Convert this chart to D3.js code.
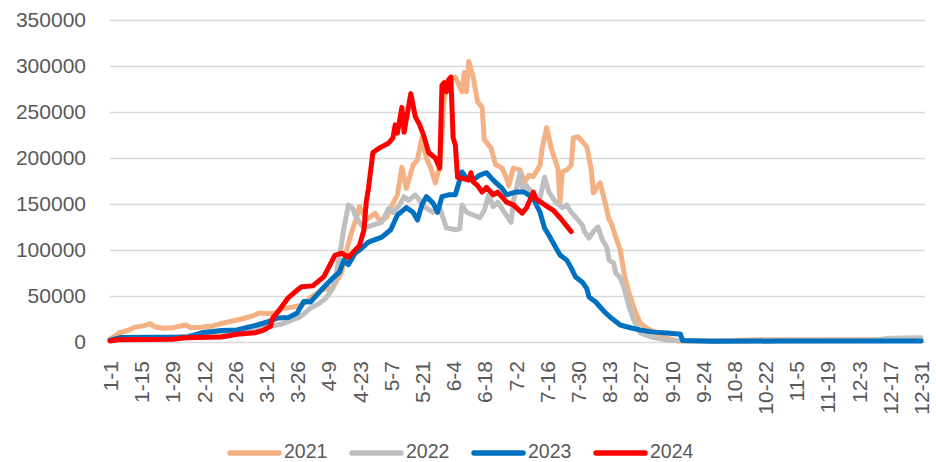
<!DOCTYPE html>
<html>
<head>
<meta charset="utf-8">
<script src="https://cdn.jsdelivr.net/npm/d3@7"></script>
<style>
  body { margin: 0; background: #fff; }
  svg { display: block; font-family: "Liberation Sans", Arial, sans-serif; }
</style>
</head>
<body>
<div id="chart"></div>
<script>
// category axis: every day of the year
const days = d3.timeDay.range(new Date(2021, 0, 1), new Date(2022, 0, 1))
                 .map(d => (d.getMonth() + 1) + '-' + d.getDate());

const tickLabels = ["1-1", "1-15", "1-29", "2-12", "2-26", "3-12", "3-26", "4-9", "4-23", "5-7",
                    "5-21", "6-4", "6-18", "7-2", "7-16", "7-30", "8-13", "8-27", "9-10", "9-24",
                    "10-8", "10-22", "11-5", "11-19", "12-3", "12-17", "12-31"];

const yTicks = [0, 50000, 100000, 150000, 200000, 250000, 300000, 350000];

const seriesNames = ["2021", "2022", "2023", "2024"];

const data2021 = [
  ["1-1", 3000], ["1-3", 6000], ["1-5", 9800], ["1-9", 12500], ["1-12", 16000], ["1-16", 17500],
  ["1-19", 20000], ["1-21", 16500], ["1-25", 15000], ["1-29", 15500], ["2-1", 17000], ["2-4", 18500],
  ["2-6", 15500], ["2-11", 16000], ["2-16", 17500], ["2-19", 19500], ["2-25", 22800], ["3-1", 25000],
  ["3-6", 28300], ["3-9", 31500], ["3-13", 31000], ["3-16", 31500], ["3-19", 36000], ["3-24", 38000],
  ["3-28", 40000], ["4-2", 50000], ["4-6", 56500], ["4-11", 59000], ["4-15", 76000], ["4-17", 98000],
  ["4-19", 116000], ["4-22", 138000], ["4-23", 147000], ["4-26", 133000], ["4-30", 140000], ["5-2", 132000],
  ["5-5", 135000], ["5-7", 146000], ["5-10", 160000], ["5-12", 190000], ["5-14", 167000], ["5-17", 192000],
  ["5-19", 198000], ["5-21", 222000], ["5-23", 200000], ["5-25", 189000], ["5-27", 173000], ["5-29", 192000],
  ["5-31", 265000], ["6-2", 285000], ["6-5", 288000], ["6-8", 272000], ["6-9", 293000], ["6-10", 272000],
  ["6-11", 305000], ["6-13", 288000], ["6-15", 261000], ["6-17", 255000], ["6-18", 220000], ["6-21", 211000],
  ["6-23", 193000], ["6-26", 189000], ["6-28", 178000], ["6-29", 170000], ["7-1", 189000], ["7-4", 187000],
  ["7-6", 174000], ["7-8", 181000], ["7-10", 180000], ["7-13", 192000], ["7-14", 211000], ["7-16", 233000],
  ["7-18", 211000], ["7-21", 189000], ["7-22", 152000], ["7-23", 185000], ["7-25", 187000], ["7-27", 192000],
  ["7-28", 222000], ["7-30", 223000], ["8-1", 218000], ["8-3", 212000], ["8-4", 200000], ["8-5", 187000],
  ["8-6", 162000], ["8-8", 170000], ["8-9", 173000], ["8-11", 154000], ["8-13", 133000], ["8-14", 129000],
  ["8-16", 114000], ["8-18", 100000], ["8-20", 71000], ["8-22", 53000], ["8-25", 31500], ["8-27", 20600],
  ["8-30", 15000], ["9-3", 9800], ["9-8", 4300], ["9-13", 1000], ["9-28", 1000], ["10-18", 2500],
  ["12-31", 2500]
];

const data2022 = [
  ["1-1", 2000], ["1-11", 3500], ["1-31", 5500], ["2-20", 9000], ["3-2", 11000], ["3-12", 16000],
  ["3-19", 19500], ["3-27", 27000], ["3-30", 32600], ["4-1", 37000], ["4-5", 42000], ["4-8", 48000],
  ["4-11", 58000], ["4-13", 80000], ["4-15", 108000], ["4-16", 124000], ["4-18", 149000], ["4-20", 145000],
  ["4-21", 138000], ["4-23", 130000], ["4-25", 124000], ["4-29", 127000], ["5-3", 130000], ["5-6", 145000],
  ["5-8", 141000], ["5-11", 149000], ["5-13", 158000], ["5-15", 154000], ["5-18", 160000], ["5-22", 147000],
  ["5-26", 141000], ["5-29", 146000], ["6-1", 124000], ["6-5", 122000], ["6-7", 123000], ["6-8", 149000],
  ["6-10", 141000], ["6-13", 138000], ["6-16", 135000], ["6-18", 143000], ["6-20", 160000], ["6-22", 147000],
  ["6-24", 152000], ["6-27", 141000], ["6-30", 130000], ["7-1", 152000], ["7-4", 184000], ["7-5", 167000],
  ["7-7", 170000], ["7-10", 160000], ["7-13", 156000], ["7-15", 179000], ["7-17", 163000], ["7-20", 152000],
  ["7-23", 146000], ["7-25", 149000], ["7-27", 141000], ["7-30", 133000], ["8-1", 127000], ["8-2", 120000],
  ["8-4", 113000], ["8-6", 120000], ["8-8", 125000], ["8-10", 111000], ["8-12", 103000], ["8-13", 89000],
  ["8-15", 86000], ["8-16", 75000], ["8-18", 70000], ["8-20", 56500], ["8-22", 38000], ["8-24", 24000],
  ["8-27", 9800], ["9-1", 5400], ["9-8", 2000], ["9-28", 1000], ["12-7", 1500], ["12-17", 4000],
  ["12-31", 4500]
];

const data2023 = [
  ["1-1", 2000], ["1-6", 5000], ["2-5", 5500], ["2-11", 10000], ["2-20", 12500], ["2-27", 13000],
  ["3-8", 18500], ["3-13", 22000], ["3-17", 26000], ["3-22", 26500], ["3-26", 31500], ["3-29", 44000],
  ["4-1", 43500], ["4-6", 57000], ["4-11", 69500], ["4-14", 76000], ["4-16", 89000], ["4-18", 84000],
  ["4-21", 96500], ["4-23", 100000], ["4-27", 108500], ["5-3", 114000], ["5-7", 122000], ["5-10", 138000],
  ["5-14", 146000], ["5-17", 141000], ["5-19", 132500], ["5-21", 149000], ["5-23", 158000], ["5-26", 151000],
  ["5-28", 141000], ["5-30", 158000], ["6-2", 160000], ["6-5", 160000], ["6-8", 185000], ["6-10", 178000],
  ["6-13", 176000], ["6-16", 181500], ["6-19", 184000], ["6-22", 176000], ["6-26", 167000], ["6-28", 160000],
  ["7-2", 163000], ["7-6", 163000], ["7-10", 156000], ["7-13", 141000], ["7-15", 124000], ["7-17", 116000],
  ["7-20", 103000], ["7-22", 94500], ["7-25", 89000], ["7-27", 80500], ["7-29", 70600], ["8-1", 65000],
  ["8-3", 58000], ["8-4", 49000], ["8-7", 43500], ["8-11", 32600], ["8-14", 26000], ["8-18", 18500],
  ["8-23", 15200], ["8-27", 13000], ["9-1", 11000], ["9-8", 9800], ["9-13", 8700], ["9-14", 8700],
  ["9-15", 1500], ["9-28", 800], ["10-28", 1000], ["12-31", 1000]
];

const data2024 = [
  ["1-1", 1000], ["1-4", 2500], ["1-29", 3000], ["2-4", 4500], ["2-20", 5500], ["2-27", 8500],
  ["3-7", 10000], ["3-11", 13000], ["3-14", 17000], ["3-15", 26000], ["3-17", 31500], ["3-22", 48000],
  ["3-26", 56500], ["3-28", 60000], ["4-2", 61000], ["4-7", 71000], ["4-12", 94500], ["4-15", 96500],
  ["4-18", 92000], ["4-23", 105000], ["4-25", 122000], ["4-26", 152000], ["4-27", 167000], ["4-29", 206000],
  ["5-2", 211000], ["5-6", 216000], ["5-8", 222000], ["5-9", 236000], ["5-10", 227000], ["5-12", 255000],
  ["5-13", 228000], ["5-16", 270000], ["5-18", 245000], ["5-20", 236000], ["5-22", 223000], ["5-24", 206000],
  ["5-27", 200000], ["5-29", 189000], ["5-30", 279000], ["5-31", 282000], ["6-1", 272000], ["6-2", 285000],
  ["6-3", 288000], ["6-4", 222000], ["6-5", 214000], ["6-6", 179000], ["6-8", 178000], ["6-11", 176000],
  ["6-12", 184000], ["6-13", 174000], ["6-15", 170000], ["6-17", 163000], ["6-19", 168000], ["6-22", 160000],
  ["6-24", 163000], ["6-28", 152000], ["7-1", 149000], ["7-5", 140000], ["7-7", 146000], ["7-10", 163000],
  ["7-11", 156000], ["7-14", 151000], ["7-17", 146000], ["7-19", 143000], ["7-22", 135000], ["7-27", 120000]
];

const COLORS = ["#F4B183", "#BFBFBF", "#0070C0", "#FF0000"];

const WIDTH = 936;
const HEIGHT = 462;
const LEFT = 110;
const RIGHT = 921;
const TOP = 20;
const BOTTOM = 342;
const TEXT_COLOR = "#595959";

const X_SCALE = d3.scalePoint()
                  .domain(days)
                  .range([LEFT, RIGHT]);
const Y_SCALE = d3.scaleLinear()
                  .domain([0, 350000])
                  .range([BOTTOM, TOP]);

let svg = d3.select('#chart')
            .append('svg')
            .attr('width', WIDTH)
            .attr('height', HEIGHT);

// gridlines + y labels
const Y_AXIS = d3.axisLeft(Y_SCALE)
                 .tickValues(yTicks)
                 .tickSize(-(RIGHT - LEFT + 4))
                 .tickPadding(24)
                 .tickFormat(d3.format('d'));

svg.append('g')
   .attr('transform', 'translate(' + LEFT + ', 0)')
   .call(Y_AXIS)
   .call(g => g.select('.domain').remove())
   .call(g => g.selectAll('line').attr('stroke', '#D9D9D9').attr('stroke-width', 1.3))
   .call(g => g.selectAll('text')
               .attr('fill', TEXT_COLOR)
               .attr('font-size', 21)
               .attr('font-family', '"Liberation Sans", Arial, sans-serif'));

// x labels
const X_AXIS = d3.axisBottom(X_SCALE)
                 .tickValues(tickLabels)
                 .tickSize(0);

svg.append('g')
   .attr('transform', 'translate(0,' + BOTTOM + ')')
   .call(X_AXIS)
   .call(g => g.select('.domain').remove())
   .call(g => g.selectAll('text')
               .attr('fill', TEXT_COLOR)
               .attr('font-size', 21)
               .attr('font-family', '"Liberation Sans", Arial, sans-serif')
               .attr('text-anchor', 'end')
               .attr('transform', 'rotate(-90)')
               .attr('x', -19)
               .attr('y', 0)
               .attr('dy', '0.36em'));

const allSeries = [data2021, data2022, data2023, data2024];

const line = d3.line()
               .x(d => X_SCALE(d[0]))
               .y(d => Y_SCALE(d[1]));

svg.append('g')
   .selectAll('path')
   .data(allSeries)
   .enter()
   .append('path')
   .attr('d', d => line(d))
   .attr('fill', 'none')
   .attr('stroke', (d, i) => COLORS[i])
   .attr('stroke-width', 5)
   .attr('stroke-linejoin', 'round')
   .attr('stroke-linecap', 'round');

// legend
const LEGEND_X = 228;
const LEGEND_STEP = 122;
const LEGEND_Y = 452;

let legend = svg.append('g')
                .selectAll('g')
                .data(seriesNames)
                .enter()
                .append('g')
                .attr('transform', (d, i) => 'translate(' + (LEGEND_X + i * LEGEND_STEP) + ',' + LEGEND_Y + ')');

legend.append('line')
      .attr('x1', 2)
      .attr('x2', 51)
      .attr('y1', 1)
      .attr('y2', 1)
      .attr('stroke', (d, i) => COLORS[i])
      .attr('stroke-width', 5.5)
      .attr('stroke-linecap', 'round');

legend.append('text')
      .attr('x', 56)
      .attr('y', -1)
      .attr('dy', '0.36em')
      .attr('font-size', 19.5)
      .attr('fill', TEXT_COLOR)
      .text(d => d);
</script>
</body>
</html>
